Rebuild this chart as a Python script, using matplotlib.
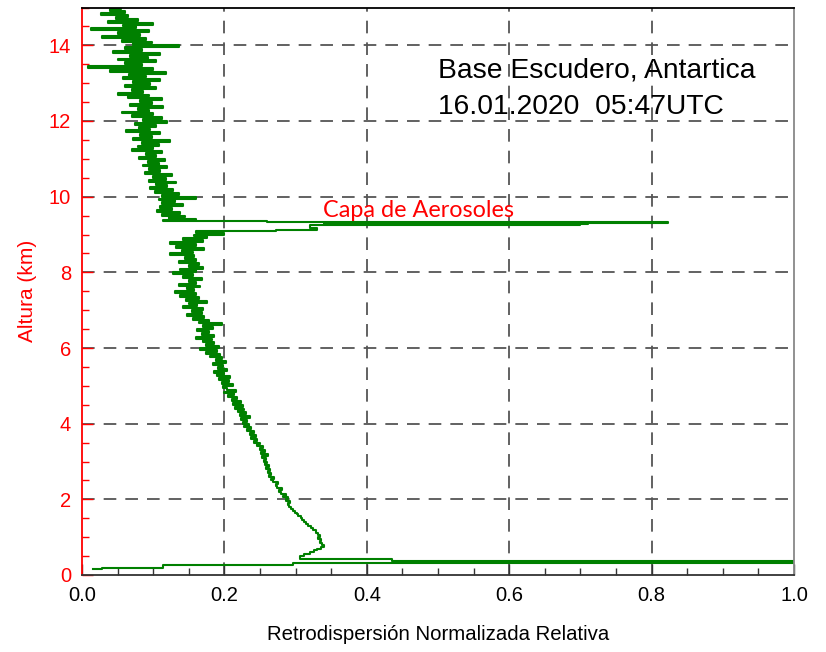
import matplotlib
matplotlib.use("Agg")
import matplotlib.pyplot as plt
from matplotlib.ticker import MultipleLocator, FormatStrFormatter

# ---- data: (altitude km, relative normalized backscatter) ----
surface_alt = [0.15, 0.19, 0.26, 0.33, 0.36, 0.38, 0.42]
surface_val = [0.015, 0.028, 0.114, 0.297, 1.2, 1.3, 0.435]

lower_alt = [0.50, 0.55, 0.60, 0.65, 0.70, 0.75, 0.80, 0.85, 0.90, 0.95,
             1.00, 1.05, 1.10, 1.15, 1.20, 1.25, 1.30, 1.35, 1.40, 1.45,
             1.50, 1.55, 1.60, 1.65, 1.70, 1.75, 1.80, 1.85, 1.90, 1.95,
             2.00, 2.05, 2.10, 2.15, 2.20, 2.25, 2.30, 2.35, 2.40, 2.45,
             2.50, 2.55, 2.60, 2.65, 2.70, 2.75, 2.80, 2.85, 2.90, 2.95,
             3.00, 3.05, 3.10, 3.15, 3.20, 3.25, 3.30, 3.35, 3.40, 3.45,
             3.50, 3.55, 3.60, 3.65, 3.70, 3.75, 3.80, 3.85, 3.90, 3.95,
             4.00, 4.05, 4.10, 4.15, 4.20, 4.25, 4.30, 4.35, 4.40, 4.45]
lower_val = [0.306, 0.312, 0.320, 0.326, 0.330, 0.336, 0.340, 0.337, 0.334, 0.336,
             0.332, 0.334, 0.331, 0.328, 0.329, 0.324, 0.321, 0.318, 0.315, 0.312,
             0.309, 0.307, 0.303, 0.302, 0.299, 0.296, 0.294, 0.291, 0.289, 0.292,
             0.286, 0.289, 0.283, 0.286, 0.280, 0.277, 0.281, 0.274, 0.272, 0.275,
             0.268, 0.266, 0.270, 0.263, 0.266, 0.261, 0.264, 0.258, 0.262, 0.257,
             0.260, 0.255, 0.258, 0.253, 0.261, 0.252, 0.257, 0.250, 0.254, 0.246,
             0.250, 0.242, 0.246, 0.238, 0.244, 0.236, 0.241, 0.232, 0.238, 0.228,
             0.234, 0.226, 0.232, 0.224, 0.236, 0.222, 0.230, 0.219, 0.228, 0.215]

middle_alt = [4.50, 4.55, 4.60, 4.65, 4.70, 4.75, 4.80, 4.85, 4.90, 4.95,
              5.00, 5.05, 5.10, 5.15, 5.20, 5.25, 5.30, 5.35, 5.40, 5.45,
              5.50, 5.55, 5.60, 5.65, 5.70, 5.75, 5.80, 5.85, 5.90, 5.95,
              6.00, 6.05, 6.10, 6.15, 6.20, 6.25, 6.30, 6.35, 6.40, 6.45,
              6.50, 6.55, 6.60, 6.65, 6.70, 6.75, 6.80, 6.85, 6.90, 6.95,
              7.00, 7.05, 7.10, 7.15, 7.20, 7.25, 7.30, 7.35, 7.40, 7.45,
              7.50, 7.55, 7.60, 7.65, 7.70, 7.75, 7.80, 7.85, 7.90, 7.95,
              8.00, 8.05, 8.10, 8.15, 8.20, 8.25, 8.30, 8.35, 8.40, 8.45,
              8.50, 8.55, 8.60, 8.65, 8.70, 8.75, 8.80, 8.85, 8.90, 8.95]
middle_val = [0.226, 0.212, 0.224, 0.210, 0.218, 0.205, 0.214, 0.200, 0.216, 0.203,
              0.198, 0.212, 0.196, 0.206, 0.192, 0.208, 0.190, 0.200, 0.186, 0.204,
              0.191, 0.198, 0.184, 0.202, 0.188, 0.196, 0.180, 0.194, 0.174, 0.190,
              0.166, 0.192, 0.174, 0.186, 0.170, 0.182, 0.160, 0.186, 0.168, 0.178,
              0.162, 0.184, 0.170, 0.196, 0.165, 0.178, 0.156, 0.172, 0.148, 0.168,
              0.155, 0.170, 0.142, 0.162, 0.150, 0.176, 0.146, 0.164, 0.138, 0.160,
              0.130, 0.158, 0.148, 0.166, 0.136, 0.160, 0.150, 0.168, 0.142, 0.156,
              0.128, 0.160, 0.138, 0.170, 0.150, 0.164, 0.136, 0.160, 0.144, 0.158,
              0.124, 0.156, 0.140, 0.172, 0.132, 0.160, 0.124, 0.170, 0.142, 0.176]

layer_alt = [9.00, 9.04, 9.08, 9.13, 9.18, 9.25, 9.27, 9.29, 9.31, 9.33, 9.36]
layer_val = [0.158, 0.200, 0.160, 0.272, 0.330, 0.320, 0.700, 0.340, 0.710, 0.823, 0.260]

upper_alt = [9.39, 9.42, 9.45, 9.50, 9.55, 9.60, 9.65, 9.70, 9.75, 9.80, 9.85, 9.90, 9.95,
             10.00, 10.05, 10.10, 10.15, 10.20, 10.25, 10.30, 10.35, 10.40, 10.45,
             10.50, 10.55, 10.60, 10.65, 10.70, 10.75, 10.80, 10.85, 10.90, 10.95,
             11.00, 11.05, 11.10, 11.15, 11.20, 11.25, 11.30, 11.35, 11.40, 11.45,
             11.50, 11.55, 11.60, 11.65, 11.70, 11.75, 11.80, 11.85, 11.90, 11.95,
             12.00, 12.05, 12.10, 12.15, 12.20, 12.25, 12.30, 12.35, 12.40, 12.45,
             12.50, 12.55, 12.60, 12.65, 12.70, 12.75, 12.80, 12.85, 12.90, 12.95,
             13.00, 13.05, 13.10, 13.15, 13.20, 13.25, 13.30, 13.35, 13.40, 13.45,
             13.50, 13.55, 13.60, 13.65, 13.70, 13.75, 13.80, 13.85, 13.90, 13.95,
             14.00, 14.05, 14.10, 14.15, 14.20, 14.25, 14.30, 14.35, 14.40, 14.45,
             14.50, 14.55, 14.60, 14.65, 14.70, 14.75, 14.80, 14.85, 14.90, 14.95, 15.00]
upper_val = [0.114, 0.160, 0.122, 0.145, 0.112, 0.138, 0.106, 0.126, 0.110, 0.142, 0.112, 0.130, 0.108,
             0.160, 0.112, 0.136, 0.102, 0.128, 0.096, 0.120, 0.104, 0.132, 0.094,
             0.118, 0.100, 0.126, 0.088, 0.110, 0.094, 0.120, 0.086, 0.108, 0.092,
             0.116, 0.080, 0.104, 0.090, 0.112, 0.070, 0.100, 0.078, 0.108, 0.084,
             0.124, 0.072, 0.098, 0.082, 0.110, 0.062, 0.096, 0.080, 0.104, 0.074,
             0.120, 0.086, 0.112, 0.070, 0.100, 0.056, 0.094, 0.078, 0.114, 0.068,
             0.098, 0.082, 0.112, 0.064, 0.094, 0.050, 0.086, 0.070, 0.104, 0.060,
             0.096, 0.072, 0.110, 0.058, 0.090, 0.066, 0.118, 0.040, 0.100, 0.008,
             0.084, 0.060, 0.104, 0.050, 0.092, 0.068, 0.110, 0.044, 0.084, 0.060,
             0.136, 0.072, 0.098, 0.056, 0.090, 0.028, 0.082, 0.050, 0.094, 0.012,
             0.076, 0.058, 0.100, 0.036, 0.078, 0.048, 0.064, 0.026, 0.060, 0.040, 0.055]

altitude_km = surface_alt + lower_alt + middle_alt + layer_alt + upper_alt
backscatter = surface_val + lower_val + middle_val + layer_val + upper_val

x_ticks = [0.0, 0.2, 0.4, 0.6, 0.8, 1.0]
y_ticks = [0, 2, 4, 6, 8, 10, 12, 14]
title_lines = ["Base Escudero, Antartica", "16.01.2020  05:47UTC"]
annotation = "Capa de Aerosoles"
x_label = "Retrodispersión Normalizada Relativa"
y_label = "Altura (km)"

# ---- figure ----
plt.rcParams['font.family'] = ['Liberation Sans', 'DejaVu Sans']
fig = plt.figure(figsize=(8.26, 6.52), dpi=100)
ax = fig.add_axes([82/826, 1-575/652, (794-82)/826, (575-7.5)/652])

ax.plot(backscatter, altitude_km, drawstyle='steps-post', color='#008000', lw=1.5)

ax.set_xlim(0, 1)
ax.set_ylim(0, 15)
ax.set_xticks(x_ticks)
ax.set_yticks(y_ticks)
ax.xaxis.set_minor_locator(MultipleLocator(0.05))
ax.yaxis.set_minor_locator(MultipleLocator(0.5))
ax.xaxis.set_major_formatter(FormatStrFormatter('%.1f'))

ax.tick_params(axis='x', which='both', direction='in', colors='#333333', labelcolor='black',
               labelsize=14.5, pad=8)
ax.tick_params(axis='x', which='major', length=8, width=1)
ax.tick_params(axis='x', which='minor', length=5, width=1)
ax.tick_params(axis='y', which='both', direction='in', colors='red', labelcolor='red',
               labelsize=14.5, pad=8)
ax.tick_params(axis='y', which='major', length=8, width=1)
ax.tick_params(axis='y', which='minor', length=5, width=1)
ax.tick_params(top=False, right=False)

for xv in x_ticks[1:-1]:
    ax.axvline(xv, color='#555555', lw=1.3, ls=(0, (7, 5)), zorder=0)
for yv in y_ticks[1:]:
    ax.axhline(yv, color='#555555', lw=1.3, ls=(0, (7, 5)), zorder=0)

ax.spines['left'].set_color('red')
ax.spines['bottom'].set_color('#333333')
ax.spines['top'].set_color('black')
ax.spines['right'].set_color('#888888')
for s in ax.spines.values():
    s.set_linewidth(1.3)

ax.set_xlabel(x_label, fontsize=14.7, color='black', labelpad=14)
ax.set_ylabel(y_label, fontsize=15, color='red', labelpad=8)

ax.text(0.50, 13.14, title_lines[0], fontsize=20.3, color='black', ha='left', va='baseline')
ax.text(0.50, 12.19, title_lines[1], fontsize=20.3, color='black', ha='left', va='baseline')
ax.text(0.338, 9.45, annotation, fontsize=16.8, color='red', ha='left', va='baseline',
        family=['Lato', 'DejaVu Sans'])

fig.savefig('out.png', dpi=100)
